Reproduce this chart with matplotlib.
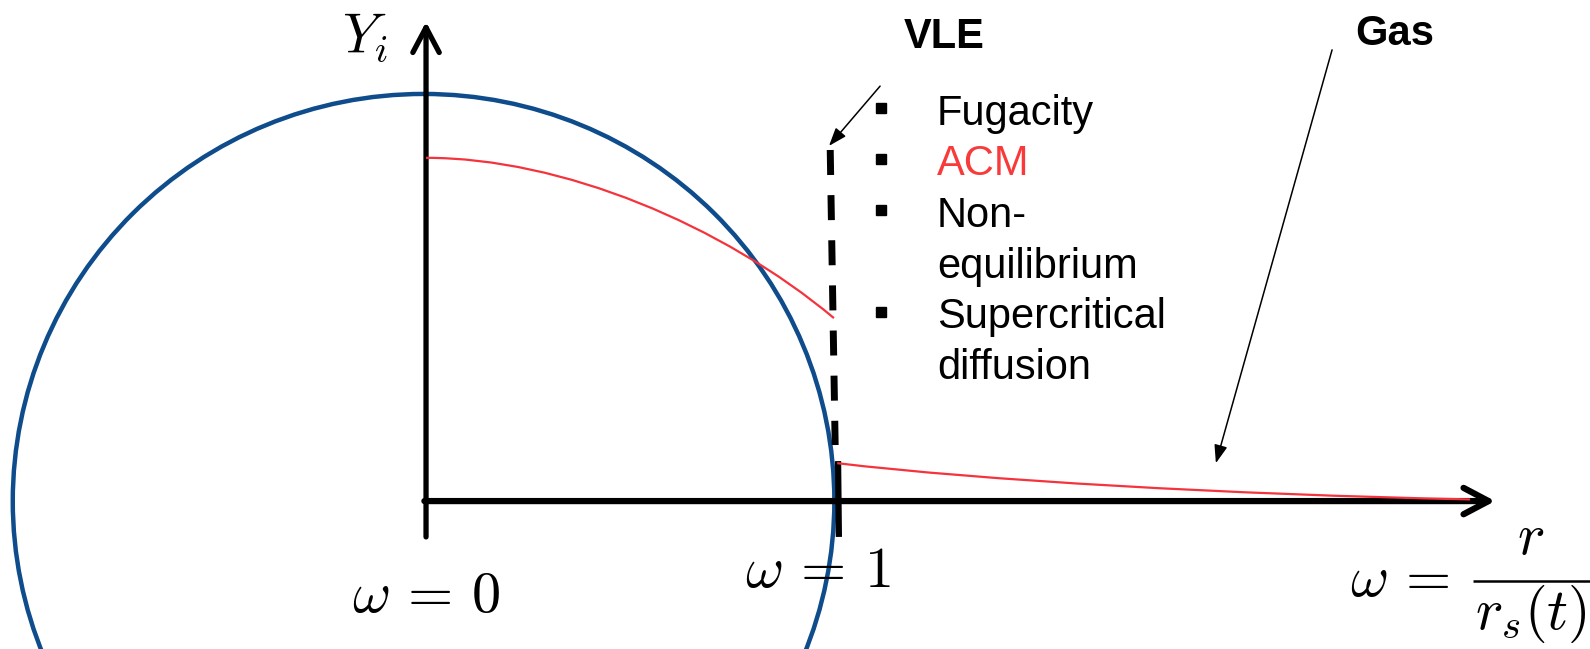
"""
Esquema del perfil de fracción másica Y_i alrededor de una gota,
en coordenada radial adimensional w = r / r_s(t).
"""

import numpy as np
import matplotlib.pyplot as plt
from matplotlib.patches import Ellipse, PathPatch
from matplotlib.path import Path

plt.rcParams['mathtext.fontset'] = 'cm'
plt.rcParams['font.family'] = ['Liberation Sans', 'DejaVu Sans']

# --------------------------------------------------
# DATOS DEL ESQUEMA
# --------------------------------------------------
# perfil en la fase líquida (0 <= w <= 1): extremos + puntos de control Bézier
liq_w = [0.000, 0.330, 0.720, 0.990]
liq_Y = [0.833, 0.833, 0.670, 0.444]

# perfil en la fase gas (w > 1)
gas_w = [0.998, 1.350, 1.950, 2.534]
gas_Y = [0.092, 0.050, 0.016, 0.004]

# gota: centro y semiejes
DROP_C  = (-0.006, 0.0)
DROP_RW = 0.997
DROP_RY = 0.988

# modelos de la interfase
vle_items  = ['Fugacity', 'ACM', 'Non-\nequilibrium', 'Supercritical\ndiffusion']
vle_colors = ['black', '#f83a3a', 'black', 'black']

RED = '#f5333c'

# --------------------------------------------------
# FIGURA
# --------------------------------------------------
fig = plt.figure(figsize=(15.9, 6.49), dpi=100)
ax = fig.add_axes([0, 0, 1, 1])
ax.set_xlim(-1.034, 2.825)
ax.set_ylim(-0.359, 1.216)
ax.axis('off')

# gota
ax.add_patch(Ellipse(DROP_C, 2 * DROP_RW, 2 * DROP_RY, fill=False,
                     edgecolor='#0e4c8c', lw=3.2, zorder=2))

# ejes con flecha abierta
ax.annotate('', xy=(0, 1.163), xytext=(0, -0.087),
            arrowprops=dict(arrowstyle='->,head_length=1.8,head_width=0.95',
                            lw=3.8, color='black', shrinkA=0, shrinkB=0),
            zorder=3)
ax.annotate('', xy=(2.595, 0), xytext=(-0.004, 0),
            arrowprops=dict(arrowstyle='->,head_length=1.8,head_width=0.95',
                            lw=4.5, color='black', shrinkA=0, shrinkB=0),
            zorder=3)

# interfase VLE (línea discontinua + marca en w = 1)
ax.plot([0.981, 0.993], [0.852, 0.136], color='black', lw=5,
        linestyle=(0, (3.6, 2.9)), solid_capstyle='butt', zorder=3)
ax.plot([1.0, 1.002], [0.097, -0.087], color='black', lw=4.5,
        solid_capstyle='butt', zorder=3)

# perfiles de Y_i (curvas Bézier cúbicas)
codes = [Path.MOVETO, Path.CURVE4, Path.CURVE4, Path.CURVE4]
for cw, cy in [(liq_w, liq_Y), (gas_w, gas_Y)]:
    ax.add_patch(PathPatch(Path(np.column_stack([cw, cy]), codes),
                           fill=False, edgecolor=RED, lw=1.6, zorder=4))

# flechas de las etiquetas
ax.annotate('', xy=(0.978, 0.862), xytext=(1.102, 1.007),
            arrowprops=dict(arrowstyle='-|>,head_length=1.1,head_width=0.4',
                            lw=1.1, color='black', shrinkA=0, shrinkB=0))
ax.annotate('', xy=(1.917, 0.092), xytext=(2.199, 1.095),
            arrowprops=dict(arrowstyle='-|>,head_length=1.1,head_width=0.4',
                            lw=1.1, color='black', shrinkA=0, shrinkB=0))

ax.text(1.160, 1.100, 'VLE', fontsize=30, fontweight='bold', va='baseline')
ax.text(2.255, 1.107, 'Gas', fontsize=30, fontweight='bold', va='baseline')

# lista de modelos con viñetas cuadradas
bullet_Y = [0.954, 0.830, 0.706, 0.459]
text_Y   = [0.913, 0.791, 0.665, 0.420]
for item, col, by, ty in zip(vle_items, vle_colors, bullet_Y, text_Y):
    ax.plot(1.104, by, 's', color='black', markersize=7.8)
    lines = item.split('\n')
    for k, line in enumerate(lines):
        ax.text(1.240, ty - k * 0.124, line, fontsize=30, color=col,
                va='baseline')

# etiquetas matemáticas
ax.text(-0.148, 1.124, r'$Y_i$', fontsize=40, ha='center', va='center')
ax.text(0.0, -0.269, r'$\omega\,=\,0$', fontsize=42, ha='center', va='baseline')
ax.text(0.951, -0.209, r'$\omega\,=\,1$', fontsize=42, ha='center', va='baseline')

# w = r / r_s(t), fracción compuesta a mano para separar numerador y denominador
ax.text(2.243, -0.231, r'$\omega\,=$', fontsize=42, ha='left', va='baseline')
ax.plot([2.541, 2.90], [-0.194, -0.194], color='black', lw=1.8,
        solid_capstyle='butt')
ax.text(2.682, -0.129, r'$r$', fontsize=42, ha='center', va='baseline')
ax.text(2.546, -0.311, r'$r_s(t)$', fontsize=42, ha='left', va='baseline')

fig.savefig('out.png', dpi=100)
